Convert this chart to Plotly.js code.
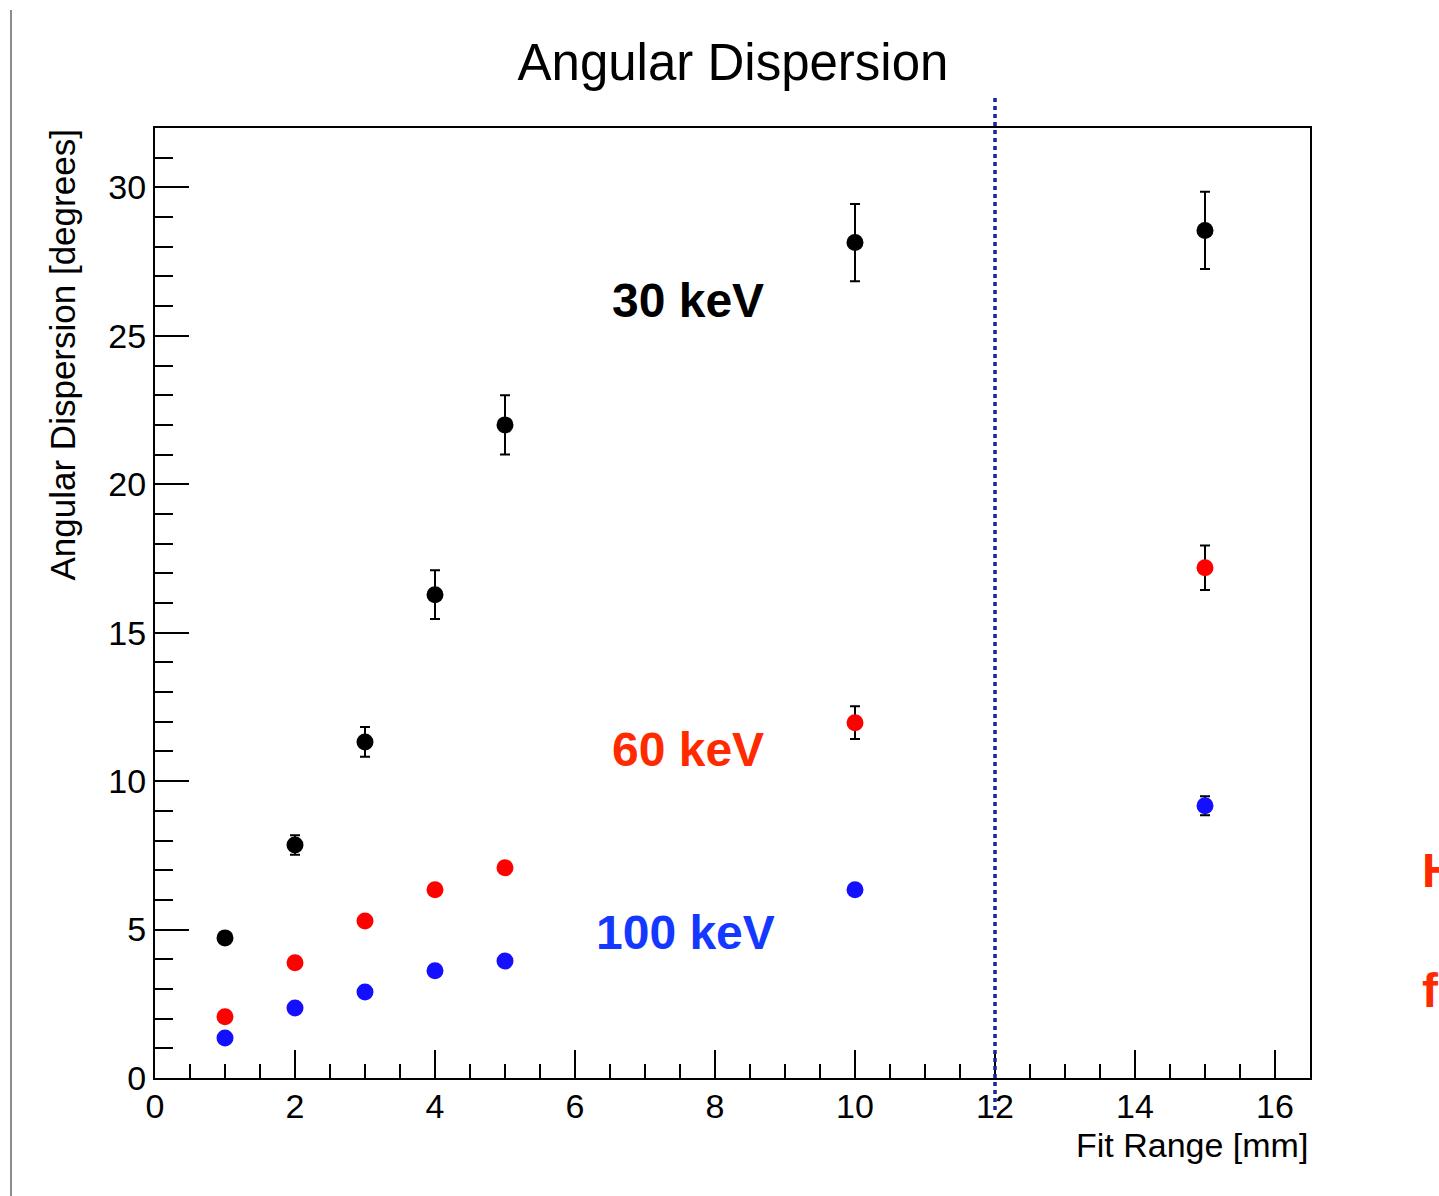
<!DOCTYPE html>
<html>
<head>
<meta charset="utf-8">
<script src="https://cdn.plot.ly/plotly-3.0.1.min.js"></script>
<style>html,body{margin:0;padding:0;background:#fff;}#chart{width:1439px;height:1196px;}</style>
</head>
<body>
<div id="chart"></div>
<script>
// Fit range [mm]
const fitRange = [1, 2, 3, 4, 5, 10, 15];
// Angular dispersion [degrees]
const disp30 = [4.72, 7.85, 11.32, 16.28, 22.0, 28.14, 28.55];
const err30  = [0.15, 0.33, 0.5, 0.82, 1.0, 1.3, 1.3];
const disp60 = [2.06, 3.88, 5.29, 6.34, 7.08, 11.97, 17.19];
const err60  = [0.1, 0.1, 0.15, 0.15, 0.15, 0.55, 0.75];
const disp100 = [1.35, 2.36, 2.90, 3.61, 3.94, 6.34, 9.17];
const err100  = [0.05, 0.08, 0.08, 0.1, 0.1, 0.15, 0.32];
const cutLine = 12;
const xRange = [0, 16.5];
const yRange = [0, 32];
const xTicks = [0, 2, 4, 6, 8, 10, 12, 14, 16];
const yTicks = [0, 5, 10, 15, 20, 25, 30];

const font = 'Liberation Sans, Arial, Helvetica, sans-serif';

function series(y, err, color) {
  return {
    x: fitRange, y: y, type: 'scatter', mode: 'markers',
    marker: {color: color, size: 17, line: {width: 0}},
    error_y: {type: 'data', array: err, visible: true, color: '#000', thickness: 2, width: 5},
    showlegend: false, hoverinfo: 'x+y'
  };
}

const data = [
  series(disp30, err30, '#000000'),
  series(disp60, err60, '#ff0000'),
  series(disp100, err100, '#1410ff')
];

const axisCommon = {
  showgrid: false, zeroline: false, showline: true, linecolor: '#000', linewidth: 2,
  mirror: true, ticks: 'inside', tickcolor: '#000', tickwidth: 2,
  tickfont: {family: font, size: 34, color: '#000'}
};

const layout = {
  width: 1439, height: 1196,
  paper_bgcolor: '#fff', plot_bgcolor: '#fff',
  margin: {l: 155, r: 129, t: 128, b: 118},
  title: {text: 'Angular Dispersion', x: 0.5004, xref: 'paper', xanchor: 'center',
          y: 1 - 62/1196, yanchor: 'middle', font: {family: font, size: 51, color: '#000'}},
  xaxis: Object.assign({}, axisCommon, {
    range: xRange, tickvals: xTicks, ticktext: xTicks.map(String), ticklen: 28,
    ticklabelstandoff: -3,
    minor: {dtick: 0.5, ticklen: 14, tickwidth: 2, tickcolor: '#000', ticks: 'inside'}
  }),
  yaxis: Object.assign({}, axisCommon, {
    range: yRange, tickvals: yTicks, ticktext: yTicks.map(String), ticklen: 34,
    minor: {dtick: 1, ticklen: 18, tickwidth: 2, tickcolor: '#000', ticks: 'inside'}
  }),
  shapes: [
    {type: 'line', xref: 'x', yref: 'paper', x0: cutLine, x1: cutLine,
     y0: (1078-1110)/950, y1: (1078-95)/950,
     line: {color: '#10269c', width: 3.5, dash: '4px,4px'}},
    {type: 'line', xref: 'paper', yref: 'paper', x0: (11-155)/1155, x1: (11-155)/1155,
     y0: (1078-1196)/950, y1: (1078-10)/950,
     line: {color: '#8c8c8c', width: 2}}
  ],
  annotations: [
    {text: 'Angular Dispersion [degrees]', textangle: -90, xref: 'paper', yref: 'paper',
     x: (62-155)/1155, y: (1078-128)/950, xanchor: 'center', yanchor: 'top', showarrow: false,
     font: {family: font, size: 35, color: '#000'}},
    {text: 'Fit Range [mm]', xref: 'paper', yref: 'paper', x: 1, y: (1078-1145)/950,
     xanchor: 'right', yanchor: 'middle', showarrow: false,
     font: {family: font, size: 34, color: '#000'}},
    {text: '<b>30 keV</b>', xref: 'x', yref: 'y', x: 7.61, y: 26.2, showarrow: false,
     font: {family: font, size: 48, color: '#000'}},
    {text: '<b>60 keV</b>', xref: 'x', yref: 'y', x: 7.61, y: 11.05, showarrow: false,
     font: {family: font, size: 48, color: '#ff2a00'}},
    {text: '<b>100 keV</b>', xref: 'x', yref: 'y', x: 7.58, y: 4.89, showarrow: false,
     font: {family: font, size: 48, color: '#1438ff'}},
    {text: '<b>H</b>', xref: 'paper', yref: 'paper', x: (1420-155)/1155, y: (1078-870)/950,
     xanchor: 'left', yanchor: 'middle', showarrow: false,
     font: {family: font, size: 48, color: '#ff2a00'}},
    {text: '<b>f</b>', xref: 'paper', yref: 'paper', x: (1420-155)/1155, y: (1078-990)/950,
     xanchor: 'left', yanchor: 'middle', showarrow: false,
     font: {family: font, size: 48, color: '#ff2a00'}}
  ]
};

Plotly.newPlot('chart', data, layout, {staticPlot: true, displayModeBar: false});
</script>
</body>
</html>
